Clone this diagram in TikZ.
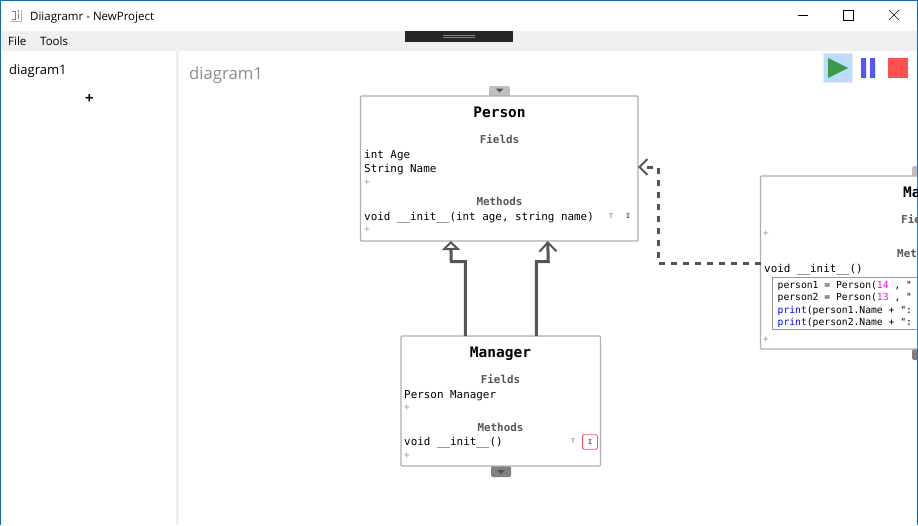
\documentclass[tikz,border=0pt]{standalone}
\usepackage{xcolor}
\usepackage{fontspec}
\setmainfont{Open Sans}
\newfontfamily\codefont{DejaVu Sans Mono}
\usepackage{tikz}
\usetikzlibrary{positioning, arrows.meta, shapes.geometric}
\definecolor{winBlue}{HTML}{1B6AA5}
\definecolor{barGray}{HTML}{F0F0F0}
\definecolor{linkGray}{HTML}{555555}
\definecolor{edgeGray}{HTML}{AEAEAE}
\definecolor{playBack}{HTML}{BBDCFB}
\definecolor{playGreen}{HTML}{3A9A4A}
\definecolor{pauseBlue}{HTML}{5555FF}
\definecolor{stopRed}{HTML}{FF5050}
\definecolor{upTan}{HTML}{B08A5A}
\definecolor{downSlate}{HTML}{44557A}
\definecolor{numPink}{HTML}{FF00FF}

\begin{document}
\begin{tikzpicture}[x=1pt, y=-1pt]
% style: class_box
\tikzstyle{class_box}=[rectangle,draw=edgeGray,fill=white,line width=1.1pt,rounded corners=1pt,anchor=north west,inner sep=0pt,outer sep=0pt]
% style: title_text
\tikzstyle{title_text}=[inner sep=0pt,anchor=base,font=\codefont\bfseries\fontsize{14.5}{16}\selectfont]
% style: head_text
\tikzstyle{head_text}=[inner sep=0pt,anchor=base,text=linkGray,font=\codefont\bfseries\fontsize{10.9}{12}\selectfont]
% style: member_text
\tikzstyle{member_text}=[inner sep=0pt,anchor=base west,font=\codefont\fontsize{10.9}{12}\selectfont]
% style: code_text
\tikzstyle{code_text}=[inner sep=0pt,anchor=base west,font=\codefont\fontsize{9.7}{11}\selectfont]
% style: plus_text
\tikzstyle{plus_text}=[inner sep=0pt,text=gray!70,font=\codefont\fontsize{10}{10}\selectfont]
% style: icon_text
\tikzstyle{icon_text}=[inner sep=0pt,font=\codefont\bfseries\fontsize{6.5}{6.5}\selectfont]
% style: ui_text
\tikzstyle{ui_text}=[inner sep=0pt,anchor=base west,font=\fontsize{11.5}{13}\selectfont]
% style: tab_shape
\tikzstyle{tab_shape}=[rectangle,rounded corners=1.5pt,inner sep=0pt,outer sep=0pt,anchor=north west]
% style: link_line
\tikzstyle{link_line}=[draw=linkGray,line width=3pt]

\useasboundingbox (0,0) rectangle (918,525);
\fill[white] (0,0) rectangle (918,525);

% window chrome
\fill[barGray] (1,31) rectangle (917,51);
\fill[barGray] (176,51) rectangle (179,525);
\fill[black!85] (405,31) rectangle (513,42);
\draw[gray] (443,35) -- (475,35) (443,37) -- (475,37);
\draw[winBlue] (0.5,525) -- (0.5,0.5) -- (917.5,0.5) -- (917.5,525);

% title bar icon
\fill[gray!60] (11,10) rectangle (22,22);
\fill[white] (10,9) rectangle (21,21);
\draw[gray,line width=0.8pt] (12,11) -- (15,11) -- (15,19) -- (12,19) (18,13) -- (18,19) (18,10) -- (18,11.5);

% node: app_title
\node[ui_text] (app_title) at (30,20) {Diiagramr - NewProject};
% node: menu_file
\node[ui_text] (menu_file) at (8,45) {File};
% node: menu_tools
\node[ui_text] (menu_tools) at (40,45) {Tools};
% node: side_diagram
\node[ui_text,font=\fontsize{13}{15}\selectfont] (side_diagram) at (9,74) {diagram1};
% node: side_add
\node[inner sep=0pt,font=\bfseries\fontsize{15}{15}\selectfont] (side_add) at (89.5,99) {+};
% node: canvas_title
\node[ui_text,text=gray!90,font=\fontsize{16.7}{19}\selectfont] (canvas_title) at (189,79) {diagram1};

% window buttons
\draw[black] (798,15.5) -- (808,15.5);
\draw[black] (843.5,10.5) rectangle (853.5,20.5);
\draw[black] (889,10) -- (899,20) (889,20) -- (899,10);

% toolbar buttons
\fill[playBack,draw=blue!8] (823.5,53.5) rectangle (852.5,82);
\fill[playGreen] (828,58) -- (848,68) -- (828,78) -- cycle;
\fill[pauseBlue] (861,58) rectangle (866,78) (870,58) rectangle (875,78);
\fill[stopRed] (888,58) rectangle (908,78);

% tabs
\node[tab_shape,fill=gray!50,minimum width=21pt,minimum height=11pt] (person_tab) at (489,86) {};
\fill[linkGray] (495.5,88.5) -- (503.5,88.5) -- (499.5,92.5) -- cycle;
\node[tab_shape,fill=gray,minimum width=20pt,minimum height=11pt] (manager_tab) at (491,466) {};
\fill[linkGray] (497,470) -- (505,470) -- (501,474) -- cycle;

% node group: person_group
% node: person
\node[class_box,minimum width=277.5pt,minimum height=145pt] (person) at (360.5,96) {};
\node[title_text] (person_title) at (499.5,117) {Person};
\node[head_text] (person_fields) at (499.5,143) {Fields};
\node[member_text] (person_age) at (364,158) {int Age};
\node[member_text] (person_name) at (364,172.5) {String Name};
\node[plus_text] (person_addf) at (367,183) {+};
\node[head_text] (person_methods) at (499.5,205) {Methods};
\node[member_text] (person_init) at (364,220) {void \_\_init\_\_(int age, string name)};
\node[plus_text] (person_addm) at (367,230) {+};
\node[icon_text,text=upTan] (person_up) at (611,216) {T};
\node[icon_text,text=downSlate] (person_dn) at (628,216) {I};
% end of node group: person_group

% node group: manager_group
% node: manager
\node[class_box,minimum width=199.5pt,minimum height=130pt] (manager) at (401,336) {};
\node[title_text] (manager_title) at (500.5,357) {Manager};
\node[head_text] (manager_fields) at (500.5,383) {Fields};
\node[member_text] (manager_person) at (404,398) {Person Manager};
\node[plus_text] (manager_addf) at (407,408) {+};
\node[head_text] (manager_methods) at (500.5,431) {Methods};
\node[member_text] (manager_init) at (404,445.5) {void \_\_init\_\_()};
\node[plus_text] (manager_addm) at (407,456) {+};
\node[icon_text,text=upTan] (manager_up) at (573,441) {T};
\node[icon_text,text=downSlate,draw=stopRed,line width=0.8pt,rounded corners=1.5pt,minimum width=15pt,minimum height=14.5pt] (manager_dn) at (590,442) {I};
% end of node group: manager_group

% node group: main_group
\begin{scope}
\clip (1,0) rectangle (917,525);
\node[tab_shape,fill=gray!50,minimum width=20pt,minimum height=11pt] (main_tabtop) at (912,166) {};
\node[tab_shape,fill=gray,minimum width=20pt,minimum height=11pt] (main_tabbot) at (912,349) {};
% node: main_class
\node[class_box,minimum width=200pt,minimum height=173pt] (main_class) at (760.5,176) {};
\node[title_text,anchor=base west] (main_title) at (903,197) {Ma};
\node[head_text,anchor=base west] (main_fields) at (901,223) {Fie};
\node[plus_text] (main_addf) at (766,234) {+};
\node[head_text,anchor=base west] (main_methods) at (897,257) {Met};
\node[member_text] (main_init) at (764,272) {void \_\_init\_\_()};
\node[rectangle,draw=gray!80,line width=0.7pt,inner sep=0pt,outer sep=0pt,anchor=north west,minimum width=200pt,minimum height=52.5pt] (main_code) at (772.5,277) {};
\node[code_text] (main_line1) at (777.5,288) {person1 = Person(\textcolor{numPink}{14} , "};
\node[code_text] (main_line2) at (777.5,300.5) {person2 = Person(\textcolor{numPink}{13} , "};
\node[code_text] (main_line3) at (777.5,313) {\textcolor{blue}{print}(person1.Name + ":};
\node[code_text] (main_line4) at (777.5,325.5) {\textcolor{blue}{print}(person2.Name + ":};
\node[plus_text] (main_addm) at (766,339.5) {+};
\end{scope}
% end of node group: main_group

% edge from manager to person
\draw[link_line, -{Triangle[open,length=9pt,width=18pt,line width=2pt]}] ([xshift=-35.5pt]manager.north) -- ++(0,-74.5) -- ++(-14,0) -- ([xshift=-48.5pt]person.south);

% edge from manager to person
\draw[link_line, -{Straight Barb[length=9pt,width=17pt,line width=2pt]}] ([xshift=35.5pt]manager.north) -- ++(0,-74.5) -- ++(12,0) -- ([xshift=48.5pt]person.south);

% edge from main_class to person
\draw[link_line, dash pattern=on 6pt off 6pt, -{Straight Barb[length=8pt,width=16pt,line width=2pt]}] (main_class.west |- 0,263) -- (658,263) -- (658,167) -- (person.east |- 0,167);

\end{tikzpicture}
\end{document}
